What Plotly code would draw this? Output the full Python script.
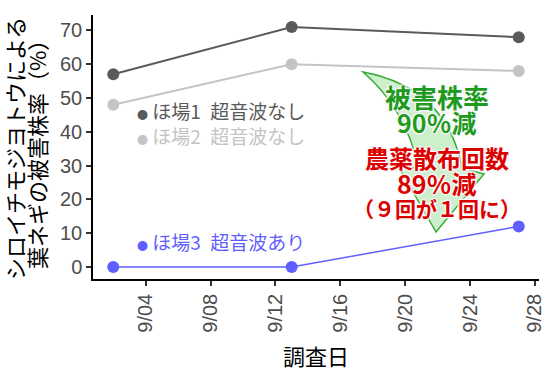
import plotly.graph_objects as go

dates = ["2023-09-02", "2023-09-13", "2023-09-27"]
field1 = [57, 71, 68]
field2 = [48, 60, 58]
field3 = [0, 0, 12]
tick_dates = ["2023-09-04", "2023-09-08", "2023-09-12", "2023-09-16", "2023-09-20", "2023-09-24", "2023-09-28"]
tick_labels = ["9/04", "9/08", "9/12", "9/16", "9/20", "9/24", "9/28"]
y_ticks = [0, 10, 20, 30, 40, 50, 60, 70]
series_names = ["ほ場1\u2002超音波なし", "ほ場2\u2002超音波なし", "ほ場3\u2002超音波あり"]
colors = ["#5a5a5a", "#c4c4c4", "#5f5fff"]
y_title = ["シロイチモジヨトウによる", "葉ネギの被害株率（%）"]
x_title = "調査日"

W, H = 545, 371
L, R, T, B = 93, 539, 15, 279

def px(x, y):
    return (x - L) / (R - L), (B - y) / (B - T)

JP = "Noto Sans CJK JP"
NUM = "Liberation Sans, Noto Sans CJK JP"

fig = go.Figure()
for vals, col, w in zip([field1, field2, field3], colors, [2, 2, 1.5]):
    fig.add_trace(go.Scatter(x=dates, y=vals, mode="lines+markers",
                             line=dict(color=col, width=w),
                             marker=dict(color=col, size=12), showlegend=False))

def P(x, y):
    a, b = px(x, y)
    return f"{a:.4f},{b:.4f}"

path = (f"M {P(363,72)} Q {P(447,88)} {P(462,168)} L {P(484,174)} L {P(436,232)} "
        f"L {P(398,166)} L {P(419,168)} Q {P(405,108)} {P(363,72)} Z")
fig.add_shape(type="path", path=path, xref="paper", yref="paper",
              fillcolor="rgba(170,228,170,0.6)", line=dict(color="#33aa33", width=1.5),
              layer="above")

shadow = "1px 1px 2px #ffffff, -1px -1px 2px #ffffff, 1px -1px 2px #ffffff, -1px 1px 2px #ffffff, 0 0 3px #bbbbbb"
green = "#1f9a1f"
red = "#dd0000"
texts = [("被害株率", 97, green, 26), ("90％減", 122, green, 25),
         ("農薬散布回数", 157, red, 24), ("89％減", 183, red, 25),
         ("（９回が１回に）", 208, red, 21)]
for t, yy, c, s in texts:
    a, b = px(437, yy)
    fig.add_annotation(x=a, y=b, xref="paper", yref="paper", text="<b>" + t + "</b>",
                       showarrow=False, xanchor="center", yanchor="middle",
                       font=dict(family=JP, size=s, color=c, shadow=shadow))

for name, col, yy in zip(series_names, colors, [110, 135, 241]):
    a, b = px(135, yy)
    fig.add_annotation(x=a, y=b, xref="paper", yref="paper",
                       text=f"<span style='font-size:11px'>●</span> {name}",
                       showarrow=False, xanchor="left", yanchor="middle",
                       font=dict(family=JP, size=19, color=col))

for t, xx in zip(y_title, [14, 36]):
    a, b = px(xx, 149)
    fig.add_annotation(x=a, y=b, xref="paper", yref="paper", text=t, textangle=-90,
                       showarrow=False, xanchor="center", yanchor="middle",
                       font=dict(family=JP, size=22, color="black"))

a, b = px(316, 355)
fig.add_annotation(x=a, y=b, xref="paper", yref="paper", text=x_title,
                   showarrow=False, xanchor="center", yanchor="middle",
                   font=dict(family=JP, size=22, color="black"))

fig.update_layout(
    width=W, height=H,
    margin=dict(l=L, r=W - R, t=T, b=H - B, autoexpand=False),
    plot_bgcolor="white", paper_bgcolor="white",
    xaxis=dict(type="date", range=["2023-08-31 18:00", "2023-09-28 06:00"],
               tickvals=tick_dates, ticktext=tick_labels, tickangle=-90,
               showline=True, linecolor="black", linewidth=1.5,
               ticks="outside", ticklen=5, tickcolor="#333333", tickwidth=1.5,
               showgrid=False, zeroline=False, automargin=False,
               ticklabeloverflow="allow",
               tickfont=dict(family=NUM, size=20, color="#4d4d4d")),
    yaxis=dict(range=[-3.55, 74.55], tickvals=y_ticks,
               showline=True, linecolor="black", linewidth=1.5,
               ticks="outside", ticklen=5, tickcolor="#333333", tickwidth=1.5,
               showgrid=False, zeroline=False, automargin=False,
               tickfont=dict(family=NUM, size=20, color="#4d4d4d")),
)

fig.write_html("out.html", config={"displayModeBar": False},
               post_script="document.body.style.margin='0px';document.body.style.overflow='hidden';")
